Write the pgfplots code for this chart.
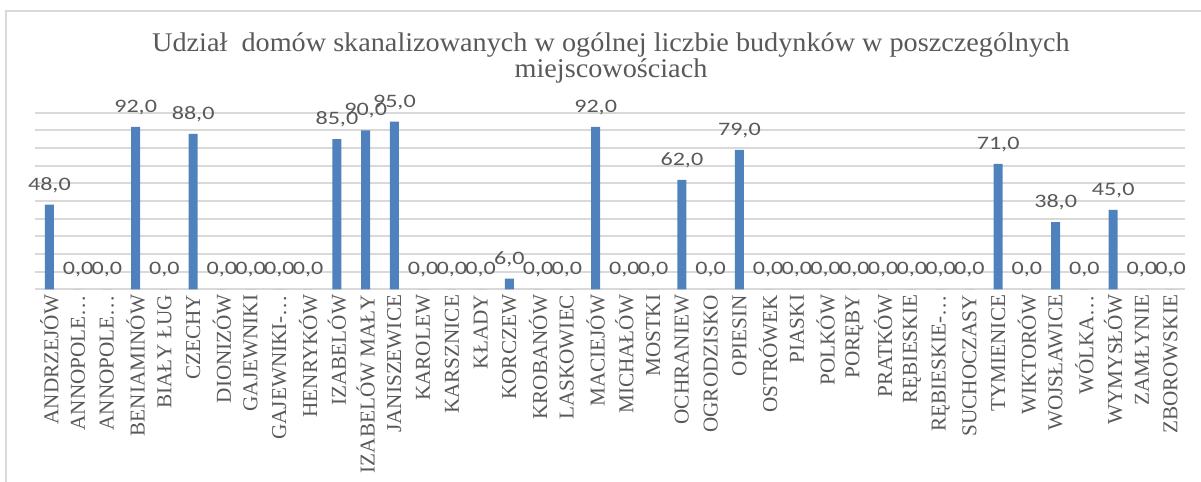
\documentclass[border=0pt]{standalone}
\usepackage{fontspec}
\setmainfont{Liberation Serif}
\newfontfamily\lblfont[FakeStretch=1.27]{Carlito}
\newfontfamily\titlefont[FakeStretch=1.045]{Liberation Serif}
\usepackage{pgfplots}
\pgfplotsset{compat=1.18}
\definecolor{barblue}{HTML}{4F81BD}
\definecolor{gridgray}{HTML}{D9D9D9}
\definecolor{txtgray}{HTML}{595959}
\begin{document}
\begin{tikzpicture}
\path[use as bounding box] (0,0) rectangle (600.5pt,241pt);
\draw[gridgray, line width=0.9pt] (3pt,0pt) -- (3pt,235.5pt) -- (600.5pt,235.5pt);
\node[anchor=base, text=txtgray, font=\titlefont\fontsize{13.5}{14}\selectfont, inner sep=0pt] at (305.5pt,215pt) {Udział\ \ domów skanalizowanych w ogólnej liczbie budynków w poszczególnych};
\node[anchor=base, text=txtgray, font=\titlefont\fontsize{13.5}{14}\selectfont, inner sep=0pt] at (305.5pt,202pt) {miejscowościach};
\begin{axis}[
  at={(17.5pt,96.35pt)}, anchor=south west,
  scale only axis, width=575pt, height=88.3pt,
  xmin=-0.5, xmax=39.5, ymin=0, ymax=100,
  ybar, bar width=4.5pt,
  axis line style={draw=none},
  ytick={0,10,...,100}, yticklabels={},
  ymajorgrids, major grid style={gridgray, line width=0.9pt},
  major tick length=0pt,
  xtick={0,...,39},
  xticklabels={ANDRZEJÓW,ANNOPOLE…,ANNOPOLE…,BENIAMINÓW,BIAŁY ŁUG,CZECHY,DIONIZÓW,GAJEWNIKI,GAJEWNIKI-…,HENRYKÓW,IZABELÓW,IZABELÓW MAŁY,JANISZEWICE,KAROLEW,KARSZNICE,KŁADY,KORCZEW,KROBANÓW,LASKOWIEC,MACIEJÓW,MICHAŁÓW,MOSTKI,OCHRANIEW,OGRODZISKO,OPIESIN,OSTRÓWEK,PIASKI,POLKÓW,PORĘBY,PRATKÓW,RĘBIESKIE,RĘBIESKIE-…,SUCHOCZASY,TYMIENICE,WIKTORÓW,WOJSŁAWICE,WÓLKA…,WYMYSŁÓW,ZAMŁYNIE,ZBOROWSKIE},
  xticklabel style={rotate=90, anchor=east, inner sep=0pt, text=txtgray, font=\fontsize{10.6}{11}\selectfont},
  xticklabel shift=2.6pt,
  nodes near coords={\pgfmathprintnumber[fixed,fixed zerofill,precision=1,use comma,assume math mode=true]{\pgfplotspointmeta}},
  nodes near coords style={font=\lblfont\fontsize{9.5}{10}\selectfont, text=txtgray, inner sep=0pt, yshift=5.8pt},
  clip=false,
]
\addplot[fill=barblue, draw=none] coordinates {
(0,48) (1,0) (2,0) (3,92) (4,0) (5,88) (6,0) (7,0) (8,0) (9,0)
(10,85) (11,90) (12,95) (13,0) (14,0) (15,0) (16,6) (17,0) (18,0) (19,92)
(20,0) (21,0) (22,62) (23,0) (24,79) (25,0) (26,0) (27,0) (28,0) (29,0)
(30,0) (31,0) (32,0) (33,71) (34,0) (35,38) (36,0) (37,45) (38,0) (39,0)
};
\end{axis}
\end{tikzpicture}
\end{document}
